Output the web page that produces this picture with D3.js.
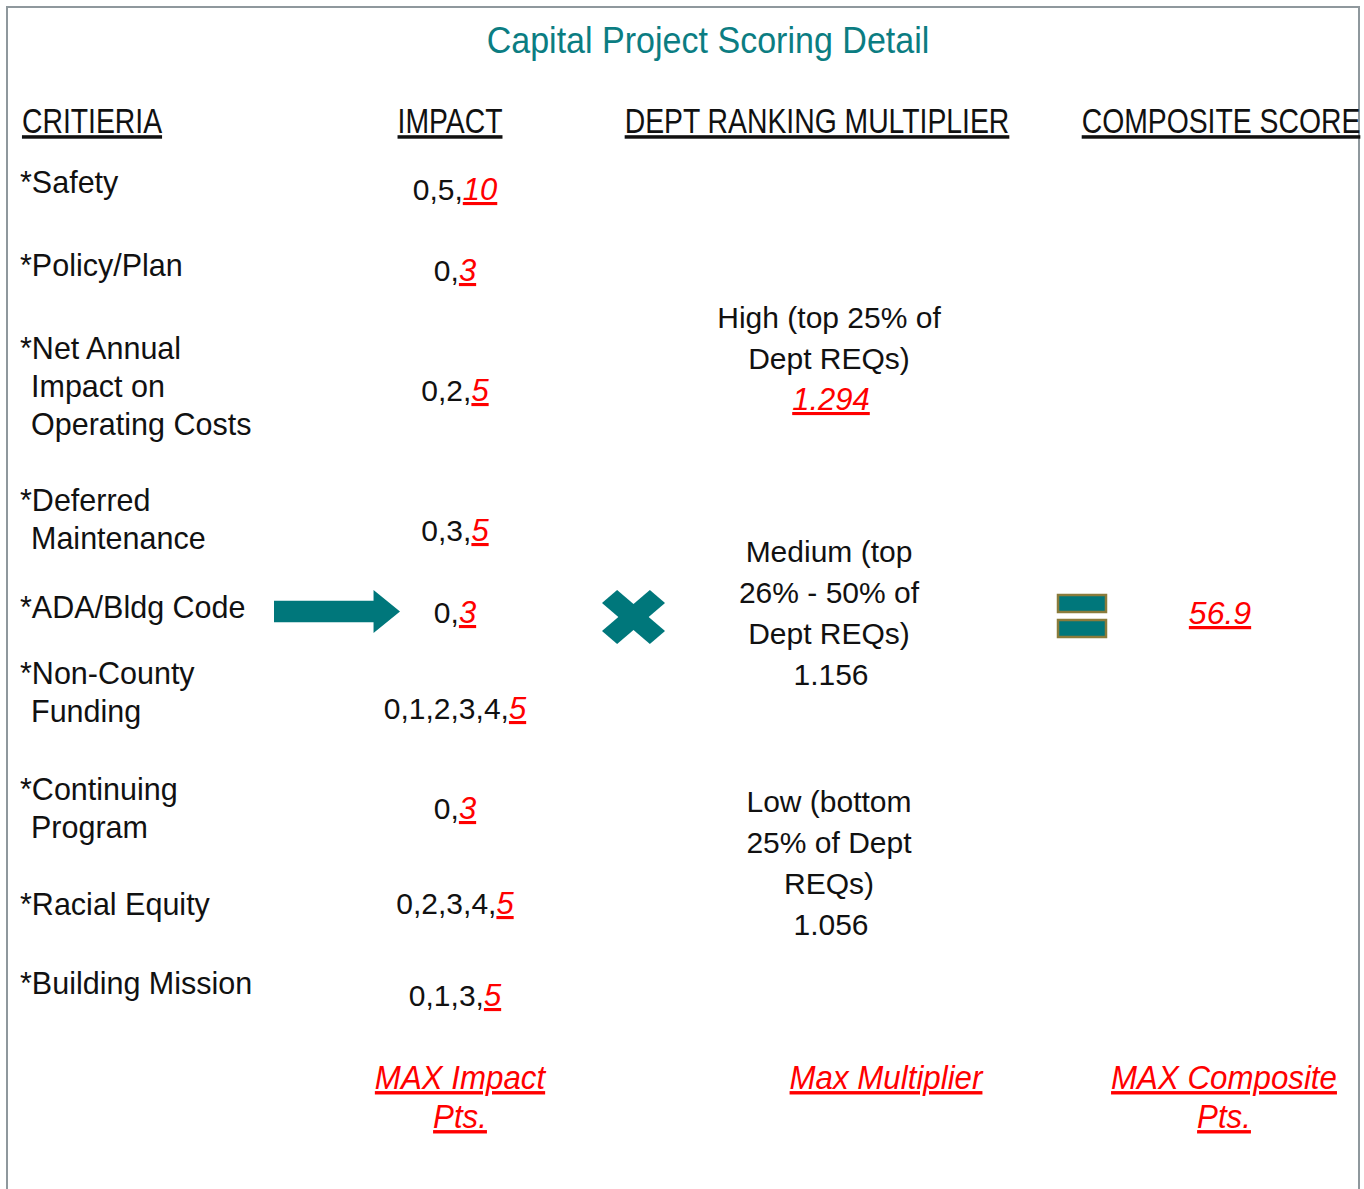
<!DOCTYPE html>
<html lang="en">
<head>
<meta charset="UTF-8">
<title>Capital Project Scoring Detail</title>
<script src="https://d3js.org/d3.v7.min.js"></script>
<style>
    body { margin: 0; background: #fff; }
    text { font-family: "Liberation Sans", Arial, sans-serif; fill: #111; }
    .red { fill: #ff0000; font-style: italic; text-decoration: underline; }
</style>
</head>
<body>
<svg id="chart" width="1364" height="1189"></svg>
<script>
// ---- data ----
const title = 'Capital Project Scoring Detail';
const headers = ['CRITIERIA', 'IMPACT', 'DEPT RANKING MULTIPLIER', 'COMPOSITE SCORE'];
const criteria = [
    ['*Safety'],
    ['*Policy/Plan'],
    ['*Net Annual', 'Impact on', 'Operating Costs'],
    ['*Deferred', 'Maintenance'],
    ['*ADA/Bldg Code'],
    ['*Non-County', 'Funding'],
    ['*Continuing', 'Program'],
    ['*Racial Equity'],
    ['*Building Mission']
];
const impactPoints = [
    [0, 5, 10], [0, 3], [0, 2, 5], [0, 3, 5], [0, 3],
    [0, 1, 2, 3, 4, 5], [0, 3], [0, 2, 3, 4, 5], [0, 1, 3, 5]
];
const tierLabels = [
    ['High (top 25% of', 'Dept REQs)'],
    ['Medium (top', '26% - 50% of', 'Dept REQs)'],
    ['Low (bottom', '25% of Dept', 'REQs)']
];
const tierMultipliers = [1.294, 1.156, 1.056];
const compositeScore = 56.9;
const footers = [['MAX Impact', 'Pts.'], ['Max Multiplier'], ['MAX Composite', 'Pts.']];

// ---- layout ----
const W = 1364, H = 1189;
const teal = '#00777b';
const colX = d3.scaleOrdinal().domain(headers).range([92, 450, 817, 1221]);
const critY = [193, 276, 359, 511, 618, 684, 800, 915, 994];
const impactY = [200, 281, 401, 541, 623, 719, 819, 914, 1006];
const tierY = [328, 562, 812];
const critLine = 38, tierLine = 41;
const impactX = 455, tierX = 829;

let svg = d3.select('#chart');

// frame
svg.append('rect')
    .attr('x', 7).attr('y', 7).attr('width', 1352).attr('height', H + 20)
    .attr('fill', 'none').attr('stroke', '#8f989d').attr('stroke-width', 2);

// title
svg.append('text')
    .attr('transform', 'translate(708,53) scale(0.92,1)')
    .attr('text-anchor', 'middle')
    .style('font-size', '37px')
    .style('fill', '#0b7d82')
    .text(title);

// column headers
svg.selectAll('.hdr').data(headers).enter().append('text')
    .attr('class', 'hdr')
    .attr('transform', d => 'translate(' + colX(d) + ',133) scale(0.81,1)')
    .attr('text-anchor', 'middle')
    .style('font-size', '35px')
    .style('text-decoration', 'underline')
    .text(d => d);

// criteria
criteria.forEach((lines, i) => {
    let t = svg.append('text').style('font-size', '30.5px');
    lines.forEach((ln, j) => {
        t.append('tspan')
            .attr('x', j === 0 ? 20 : 31)
            .attr('y', critY[i] + j * critLine)
            .text(ln);
    });
});

// impact points, last one is the max
impactPoints.forEach((pts, i) => {
    let t = svg.append('text')
        .attr('x', impactX).attr('y', impactY[i])
        .attr('text-anchor', 'middle')
        .style('font-size', '30px');
    t.append('tspan').text(pts.slice(0, -1).join(',') + ',');
    t.append('tspan').attr('class', 'red').style('font-size', '31px').text(pts[pts.length - 1]);
});

// arrow
let ax = d3.scaleLinear().domain([0, 1]).range([274, 400]);
let ay = d3.scaleLinear().domain([-1, 1]).range([590, 633]);
let arrowPts = [[0, -0.5], [0.79, -0.5], [0.79, -1], [1, 0], [0.79, 1], [0.79, 0.5], [0, 0.5]];
svg.append('path')
    .attr('d', d3.line().x(p => ax(p[0])).y(p => ay(p[1])).curve(d3.curveLinearClosed)(arrowPts))
    .attr('fill', teal);

// multiply sign
let mul = svg.append('g').attr('transform', 'translate(633.5,617) scale(31.5,27)');
[45, -45].forEach(a => {
    mul.append('rect')
        .attr('x', -1.075).attr('y', -0.34).attr('width', 2.15).attr('height', 0.68)
        .attr('transform', 'rotate(' + a + ')')
        .attr('fill', teal);
});

// department ranking tiers
tierLabels.forEach((lines, i) => {
    let t = svg.append('text')
        .attr('text-anchor', 'middle')
        .style('font-size', '30px');
    lines.forEach((ln, j) => {
        t.append('tspan').attr('x', tierX).attr('y', tierY[i] + j * tierLine).text(ln);
    });
    let v = t.append('tspan')
        .attr('x', tierX + 2)
        .attr('y', tierY[i] + lines.length * tierLine)
        .text(tierMultipliers[i].toFixed(3));
    if (i === 0) v.attr('class', 'red').style('font-size', '31px');
});

// equals sign
[0, 1].forEach(k => {
    svg.append('rect')
        .attr('x', 1058).attr('y', 595 + k * 25).attr('width', 48).attr('height', 17)
        .attr('fill', teal).attr('stroke', '#8a7b3b').attr('stroke-width', 2.5);
});

// composite score
svg.append('text')
    .attr('x', 1220).attr('y', 624)
    .attr('text-anchor', 'middle')
    .attr('class', 'red')
    .style('font-size', '32px')
    .text(compositeScore);

// footers
let footX = [460, 886, 1224];
footers.forEach((lines, i) => {
    lines.forEach((ln, j) => {
        svg.append('text')
            .attr('class', 'red')
            .attr('transform', 'translate(' + footX[i] + ',' + (1089 + j * 39) + ') scale(0.92,1)')
            .attr('text-anchor', 'middle')
            .style('font-size', '34px')
            .text(ln);
    });
});
</script>
</body>
</html>
